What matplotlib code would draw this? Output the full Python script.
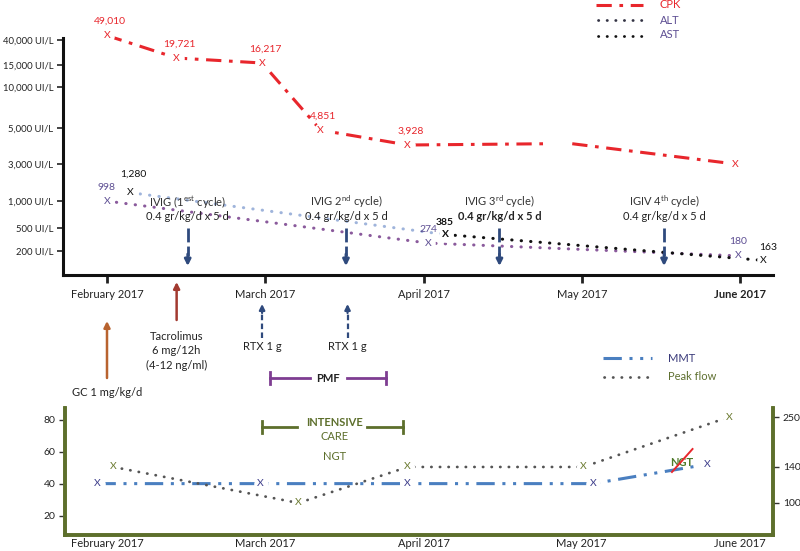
import numpy as np
import matplotlib
matplotlib.use('Agg')
import matplotlib.pyplot as plt
import matplotlib.transforms as mtransforms
from matplotlib.ticker import FixedLocator, NullLocator

plt.rcParams['font.family'] = ['Lato', 'DejaVu Sans']
plt.rcParams['mathtext.fontset'] = 'custom'
plt.rcParams['mathtext.rm'] = 'Lato'
plt.rcParams['mathtext.bf'] = 'Lato:bold'
plt.rcParams['mathtext.it'] = 'Lato:italic'

# ------------------------------------------------------------------ data
month_labels = ['February 2017', 'March 2017', 'April 2017', 'May 2017', 'June 2017']
month_pos = [0, 1, 2, 3, 4]          # month index (Feb = 0)

# lab values (top panel), x in months since 1 Feb 2017
cpk_x = [0.0, 0.44, 0.98, 1.35, 1.90, 3.97]
cpk_val = [49010, 19721, 16217, 4851, 3928, 3000]
cpk_labels = ['49,010', '19,721', '16,217', '4,851', '3,928', '']
cpk_path_x = [0.0, 0.44, 0.98, 1.35, 1.90, 2.79, np.nan, 2.94, 3.97]
cpk_path_val = [49010, 19721, 16217, 4851, 3928, 4000, np.nan, 4000, 3000]

alt_x = [0.0, 2.03, 3.99]
alt_val = [998, 274, 180]
alt_labels = ['998', '274', '180']

ast_x = [0.15, 2.14, 4.15]
ast_val = [1280, 385, 163]
ast_labels = ['1,280', '385', '163']

ytick_vals = [200, 500, 1000, 3000, 5000, 10000, 15000, 40000]
ytick_labels = ['200 UI/L', '500 UI/L', '1,000 UI/L', '3,000 UI/L',
                '5,000 UI/L', '10,000 UI/L', '15,000 UI/L', '40,000 UI/L']

# treatments
ivig_x = [0.51, 1.51, 2.48, 3.52]
ivig_titles = [r'IVIG (1$^{\mathrm{est}}$ cycle)', r'IVIG 2$^{\mathrm{nd}}$ cycle)',
               r'IVIG 3$^{\mathrm{rd}}$ cycle)', r'IGIV 4$^{\mathrm{th}}$ cycle)']
ivig_dose = ['0.4 gr/kg/d x 5 d'] * 4
ivig_bold = [False, False, True, False]

gc_x = 0.0
tacro_x = 0.44
rtx_x = [0.98, 1.52]
pmf_span = [1.03, 1.76]
icu_span = [0.98, 1.87]

# bottom panel
mmt_x = [-0.06, 0.97, 1.90, 3.07, 3.79]
mmt_val = [40, 40, 40, 40, 52]
peak_x = [0.04, 1.21, 1.90, 3.01, 3.93]
peak_val = [140, 100, 140, 140, 250]
left_ticks = [20, 40, 60, 80]
right_ticks = [100, 140, 250]

# ------------------------------------------------------------------ colours
RED = '#e8262c'
ALTC = '#8a5a9c'
ALT_TXT = '#5e4f93'
AST_LIGHT = '#9fb4db'
NAVY = '#2f4a7d'
OLIVE = '#5d6f2c'
MMTC = '#4a7fc0'
PURPLE = '#7e3d92'
DOTS = (0, (0.1, 3.0))

W, H = 800, 551
def fx(p): return p / W
def fy(p): return 1 - p / H

fig = plt.figure(figsize=(8, 5.51), dpi=100)

# ------------------------------------------------------------------ top panel
ax = fig.add_axes([fx(63), fy(275), fx(773) - fx(63), fy(38) - fy(275)])

_anc_v = np.log10([10, 100, 200, 500, 1000, 3000, 5000, 10000, 15000, 40000, 100000, 1e6])
_anc_p = H - np.array([330, 283, 251, 228, 201, 164, 128, 87, 65, 40, 20, -20], float)

def fwd(v):
    v = np.asarray(v, float)
    with np.errstate(all='ignore'):
        lv = np.log10(np.where(v > 0, v, np.nan))
    return np.interp(lv, _anc_v, _anc_p)

def inv(p):
    p = np.asarray(p, float)
    return 10 ** np.interp(p, _anc_p, _anc_v)

ax.set_yscale('function', functions=(fwd, inv))
ax.set_ylim(float(inv(H - 275)), float(inv(H - 38)))
ax.set_xlim((63 - 107) / 158.25, (773 - 107) / 158.25)

for s in ['top', 'right']:
    ax.spines[s].set_visible(False)
for s in ['left', 'bottom']:
    ax.spines[s].set_linewidth(2.2)
    ax.spines[s].set_color('#111111')

ax.yaxis.set_major_locator(FixedLocator(ytick_vals))
ax.yaxis.set_minor_locator(NullLocator())
ax.set_yticklabels(ytick_labels)
ax.tick_params(axis='y', length=4, width=1.2, pad=3, labelsize=6.8, colors='#222222')
ax.set_xticks(month_pos)
ax.set_xticklabels(month_labels)
ax.tick_params(axis='x', length=6, width=2, pad=4, labelsize=8, colors='#222222')
ax.get_xticklabels()[-1].set_fontweight('bold')

# lines
ax.plot(cpk_path_x, cpk_path_val, color=RED, lw=2.2, ls=(0, (5, 2.5, 1.2, 2.5)),
        clip_on=False, zorder=2)
ax.plot(alt_x, alt_val, color=ALTC, lw=2.2, ls=DOTS, dash_capstyle='round',
        clip_on=False, zorder=2)
ax.plot(ast_x[:2], ast_val[:2], color=AST_LIGHT, lw=2.2, ls=DOTS,
        dash_capstyle='round', clip_on=False, zorder=2)
ax.plot(ast_x[1:], ast_val[1:], color='#111111', lw=2.2, ls=DOTS,
        dash_capstyle='round', clip_on=False, zorder=2)

# gaps round the X marks
allx = cpk_x + alt_x + ast_x
ally = cpk_val + alt_val + ast_val
ax.scatter(allx, ally, s=110, color='white', zorder=3, clip_on=False, lw=0)

for x, v, lab in zip(cpk_x, cpk_val, cpk_labels):
    ax.text(x, v, 'X', color=RED, fontsize=7.5, ha='center', va='center', zorder=4, clip_on=False)
    if lab:
        ax.annotate(lab, (x, v), xytext=(2, 10), textcoords='offset points', color=RED,
                    fontsize=7.5, ha='center', va='center', annotation_clip=False)
for x, v, lab in zip(alt_x, alt_val, alt_labels):
    ax.text(x, v, 'X', color=ALT_TXT, fontsize=7.5, ha='center', va='center', zorder=4, clip_on=False)
    ax.annotate(lab, (x, v), xytext=(0, 10), textcoords='offset points', color=ALT_TXT,
                fontsize=7.5, ha='center', va='center', annotation_clip=False)
for i, (x, v, lab) in enumerate(zip(ast_x, ast_val, ast_labels)):
    fw = 'bold' if i == 1 else 'normal'
    ax.text(x, v, 'X', color='#111111', fontsize=7.5, ha='center', va='center', zorder=4,
            clip_on=False, fontweight=fw)
    ax.annotate(lab, (x, v), xytext=(2 if i == 0 else (-1 if i == 1 else 3), 13 if i == 0 else 9),
                textcoords='offset points', color='#111111', fontsize=7.5, ha='center',
                va='center', annotation_clip=False, fontweight=fw)

bt = mtransforms.blended_transform_factory(ax.transData, fig.transFigure)

# IVIG annotations
for x, t, d, b in zip(ivig_x, ivig_titles, ivig_dose, ivig_bold):
    ax.text(x, fy(202), t, transform=bt, ha='center', va='center', fontsize=8, color='#333333')
    ax.text(x, fy(216), d, transform=bt, ha='center', va='center', fontsize=8, color='#222222',
            fontweight='bold' if b else 'normal')
    ax.plot([x, x], [fy(228), fy(256)], transform=bt, color=NAVY, lw=2, ls=(0, (5, 1.5)),
            clip_on=False, zorder=3)
    ax.annotate('', xy=(x, fy(266)), xytext=(x, fy(254)), xycoords=bt, textcoords=bt,
                arrowprops=dict(arrowstyle='-|>', color=NAVY, lw=2, mutation_scale=9,
                                shrinkA=0, shrinkB=0), annotation_clip=False)

# legend top
fig.lines.append(plt.Line2D([fx(596), fx(643)], [fy(4.5), fy(4.5)], transform=fig.transFigure,
                            color=RED, lw=2.2, ls=(0, (5, 2.5, 1.2, 2.5))))
fig.lines.append(plt.Line2D([fx(598), fx(643)], [fy(20), fy(20)], transform=fig.transFigure,
                            color='#333344', lw=2, ls=DOTS, dash_capstyle='round'))
fig.lines.append(plt.Line2D([fx(598), fx(643)], [fy(36), fy(36)], transform=fig.transFigure,
                            color='#111111', lw=2, ls=DOTS, dash_capstyle='round'))
fig.text(fx(660), fy(5), 'CPK', color=RED, fontsize=8, va='center')
fig.text(fx(660), fy(20), 'ALT', color=ALT_TXT, fontsize=8, va='center')
fig.text(fx(660), fy(35), 'AST', color=ALT_TXT, fontsize=8, va='center')

# ------------------------------------------------------------------ treatments below axis
def up_arrow(x, y0, y1, color, dashed=False):
    if dashed:
        ax.plot([x, x], [fy(y0), fy(y1 + 8)], transform=bt, color=color, lw=1.6,
                ls=(0, (2.5, 1.5)), clip_on=False)
        ax.annotate('', xy=(x, fy(y1)), xytext=(x, fy(y1 + 9)), xycoords=bt, textcoords=bt,
                    arrowprops=dict(arrowstyle='-|>', color=color, lw=1.6, mutation_scale=8,
                                    shrinkA=0, shrinkB=0), annotation_clip=False)
    else:
        ax.annotate('', xy=(x, fy(y1)), xytext=(x, fy(y0)), xycoords=bt, textcoords=bt,
                    arrowprops=dict(arrowstyle='-|>', color=color, lw=1.8, mutation_scale=9,
                                    shrinkA=0, shrinkB=0), annotation_clip=False)

up_arrow(gc_x, 378, 321, '#b8632f')
ax.text(gc_x, fy(392), 'GC 1 mg/kg/d', transform=bt, ha='center', va='center', fontsize=8,
        color='#222222')
up_arrow(tacro_x, 320, 282, '#a23a30')
for yy, t in zip([337, 351, 365], ['Tacrolimus', '6 mg/12h', '(4-12 ng/ml)']):
    ax.text(tacro_x, fy(yy), t, transform=bt, ha='center', va='center', fontsize=8, color='#222222')
for x in rtx_x:
    up_arrow(x, 338, 304, NAVY, dashed=True)
    ax.text(x, fy(347), 'RTX 1 g', transform=bt, ha='center', va='center', fontsize=8,
            color='#222222')

# PMF bracket
pm = (pmf_span[0] + pmf_span[1]) / 2
ax.plot([pmf_span[0], pm - 0.11], [fy(378)] * 2, transform=bt, color=PURPLE, lw=2, clip_on=False)
ax.plot([pm + 0.12, pmf_span[1]], [fy(378)] * 2, transform=bt, color=PURPLE, lw=2, clip_on=False)
for xe in pmf_span:
    ax.plot([xe, xe], [fy(372), fy(384)], transform=bt, color=PURPLE, lw=2, clip_on=False)
ax.text(pm, fy(378), 'PMF', transform=bt, ha='center', va='center', fontsize=8,
        fontweight='bold', color='#222222')

# ------------------------------------------------------------------ bottom panel
ax2 = fig.add_axes([fx(65), fy(535), fx(773) - fx(65), fy(408) - fy(535)])
ax2.set_xlim((65 - 107) / 158.25, (773 - 107) / 158.25)
ax2.set_ylim(7.9, 87.25)
ax3 = ax2.twinx()
ax2.patch.set_visible(False)
ax3.patch.set_visible(False)

_r_v = np.array([0, 100, 140, 250, 400], float)
_r_p = np.array([-28.35, 27.9, 50.4, 81.6, 124.1])
def rfwd(v):
    return np.interp(np.asarray(v, float), _r_v, _r_p)
def rinv(p):
    return np.interp(np.asarray(p, float), _r_p, _r_v)
ax3.set_yscale('function', functions=(rfwd, rinv))
ax3.set_ylim(float(rinv(7.9)), float(rinv(87.25)))

for a in (ax2, ax3):
    a.spines['top'].set_visible(False)
    for s in ['left', 'right', 'bottom']:
        a.spines[s].set_color(OLIVE)
        a.spines[s].set_linewidth(2.6)

ax2.set_yticks(left_ticks)
ax2.tick_params(axis='y', length=4, width=1, color='#333333', labelsize=7.5, pad=3,
                labelcolor='#222222')
ax3.yaxis.set_major_locator(FixedLocator(right_ticks))
ax3.yaxis.set_minor_locator(NullLocator())
ax3.set_yticklabels([str(t) for t in right_ticks])
ax3.tick_params(axis='y', length=4, width=1, color='#333333', labelsize=7.5, pad=3,
                labelcolor='#222222')
ax2.set_xticks(month_pos)
ax2.set_xticklabels(month_labels)
ax2.tick_params(axis='x', length=0, pad=2, labelsize=8, labelcolor='#222222')

ax2.plot(mmt_x, mmt_val, color=MMTC, lw=2.2, ls=(0, (6, 2.5, 1, 2.5, 1, 2.5)), zorder=2,
         clip_on=False)
ax3.plot(peak_x, peak_val, color='#555555', lw=2, ls=DOTS,
         dash_capstyle='round', zorder=2, clip_on=False)
ax2.scatter(mmt_x, mmt_val, s=110, color='white', zorder=3, lw=0, clip_on=False)
ax3.scatter(peak_x, peak_val, s=90, color='white', zorder=3, lw=0, clip_on=False)
for x, v in zip(mmt_x, mmt_val):
    ax2.text(x, v, 'X', color='#3c3c8a', fontsize=7.5, ha='center', va='center', zorder=4)
for x, v in zip(peak_x, peak_val):
    ax3.text(x, v, 'X', color='#6b7a30', fontsize=7.5, ha='center', va='center', zorder=4)

# intensive care bracket
im = 1.44
ax3.plot([icu_span[0], im - 0.24], [fy(427)] * 2, transform=bt, color=OLIVE, lw=2, clip_on=False)
ax3.plot([im + 0.20, icu_span[1]], [fy(427)] * 2, transform=bt, color=OLIVE, lw=2, clip_on=False)
for xe in icu_span:
    ax3.plot([xe, xe], [fy(421), fy(433)], transform=bt, color=OLIVE, lw=2, clip_on=False)
ax3.text(im, fy(422), 'INTENSIVE', transform=bt, ha='center', va='center', fontsize=8,
         fontweight='bold', color=OLIVE)
ax3.text(im, fy(436), 'CARE', transform=bt, ha='center', va='center', fontsize=8, color=OLIVE)
ax3.text(im, fy(457), 'NGT', transform=bt, ha='center', va='center', fontsize=8, color=OLIVE)

# struck NGT
ax3.text(3.63, fy(462), 'NGT', transform=bt, ha='center', va='center', fontsize=8,
         fontweight='bold', color='#4f7a2a', zorder=5)
ax3.plot([3.57, 3.70], [fy(472), fy(449)], transform=bt, color=RED, lw=1.4, clip_on=False, zorder=6)

# bottom legend
fig.lines.append(plt.Line2D([fx(603), fx(652)], [fy(358), fy(358)], transform=fig.transFigure,
                            color=MMTC, lw=2.2, ls=(0, (6, 2.5, 1, 2.5, 1, 2.5))))
fig.lines.append(plt.Line2D([fx(604), fx(650)], [fy(377), fy(377)], transform=fig.transFigure,
                            color='#555555', lw=2, ls=DOTS, dash_capstyle='round'))
fig.text(fx(668), fy(358), 'MMT', color='#3a3a7a', fontsize=8, va='center')
fig.text(fx(668), fy(377), 'Peak flow', color='#5f7030', fontsize=8, va='center')

fig.savefig('out.png', dpi=100)
